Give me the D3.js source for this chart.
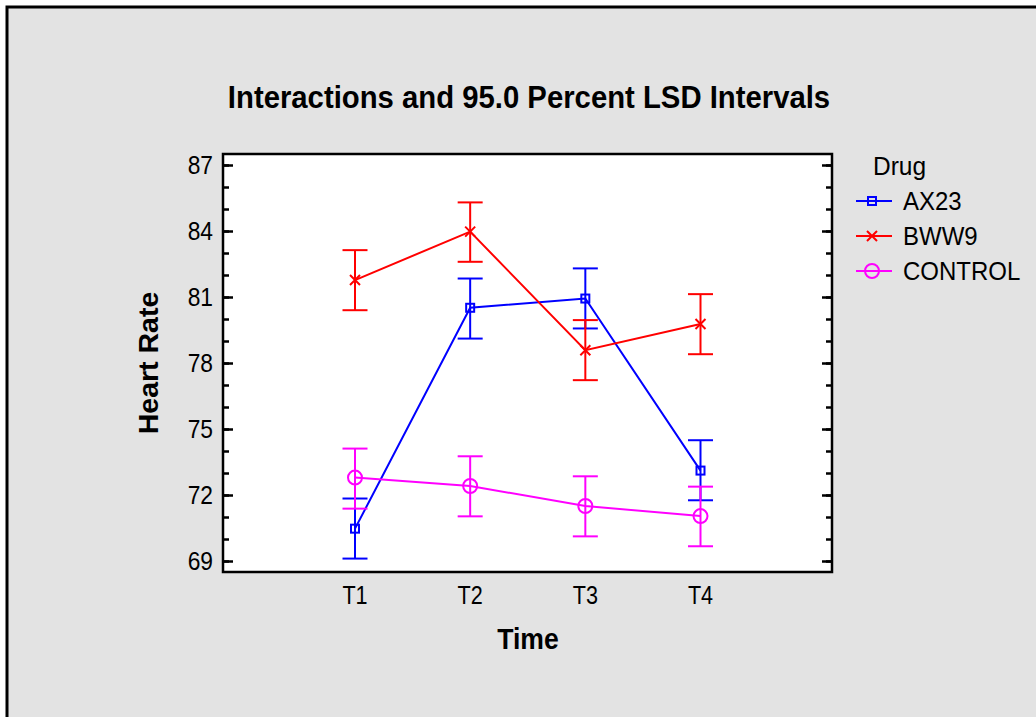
<!DOCTYPE html>
<html>
<head>
<meta charset="utf-8">
<script src="https://cdn.jsdelivr.net/npm/d3@7"></script>
<style>
  html, body { margin: 0; padding: 0; background: #ffffff; }
  svg { display: block; }
  text { font-family: "Liberation Sans", Arial, sans-serif; fill: #000; }
</style>
</head>
<body>
<svg id="chart" width="1036" height="717"></svg>
<script>
// ---- data ----
const categories = ["T1", "T2", "T3", "T4"];
const seriesNames = ["AX23", "BWW9", "CONTROL"];
const ax23Mean  = [70.47, 80.51, 80.93, 73.11];
const ax23Low   = [69.11, 79.11, 79.57, 71.76];
const ax23High  = [71.84, 81.84, 82.30, 74.49];
const bww9Mean  = [81.77, 83.97, 78.58, 79.77];
const bww9Low   = [80.40, 82.60, 77.22, 78.40];
const bww9High  = [83.13, 85.30, 79.95, 81.13];
const ctrlMean  = [72.79, 72.41, 71.50, 71.04];
const ctrlLow   = [71.38, 71.03, 70.12, 69.67];
const ctrlHigh  = [74.11, 73.76, 72.85, 72.38];
const yTicks = [69, 72, 75, 78, 81, 84, 87];
const yMinorTicks = d3.range(69, 88, 1);
const titleText = "Interactions and 95.0 Percent LSD Intervals";
const xTitle = "Time";
const yTitle = "Heart Rate";
const legendTitle = "Drug";

const series = [
  { name: seriesNames[0], mean: ax23Mean, low: ax23Low, high: ax23High, color: "#0000ff", marker: "square" },
  { name: seriesNames[1], mean: bww9Mean, low: bww9Low, high: bww9High, color: "#ff0000", marker: "cross" },
  { name: seriesNames[2], mean: ctrlMean, low: ctrlLow, high: ctrlHigh, color: "#ff00ff", marker: "circle" }
];

// ---- layout ----
const svg = d3.select("#chart");
const plot = { left: 223, right: 832, top: 154, bottom: 572 };

// outer background frame
svg.append("rect")
  .attr("x", 7).attr("y", 7)
  .attr("width", 1040).attr("height", 720)
  .attr("fill", "#e3e3e3")
  .attr("stroke", "#000").attr("stroke-width", 3);

const x = d3.scalePoint().domain(categories)
  .range([355, 700.5]);
const y = d3.scaleLinear().domain([68.5, 87.5]).range([plot.bottom, plot.top]);

// plot background
svg.append("rect")
  .attr("x", plot.left).attr("y", plot.top)
  .attr("width", plot.right - plot.left).attr("height", plot.bottom - plot.top)
  .attr("fill", "#ffffff");

// axes with inward ticks on both sides
const yAxisLeftMinor = d3.axisRight(y).tickValues(yMinorTicks).tickSize(6).tickFormat("");
const yAxisLeftMajor = d3.axisRight(y).tickValues(yTicks).tickSize(10).tickFormat("");
const yAxisRightMinor = d3.axisLeft(y).tickValues(yMinorTicks).tickSize(6).tickFormat("");
const yAxisRightMajor = d3.axisLeft(y).tickValues(yTicks).tickSize(10).tickFormat("");

[[yAxisLeftMinor, plot.left], [yAxisLeftMajor, plot.left], [yAxisRightMinor, plot.right], [yAxisRightMajor, plot.right]]
  .forEach(([ax, px]) => {
    const g = svg.append("g").attr("transform", `translate(${px},0)`).call(ax);
    g.select(".domain").remove();
    g.selectAll(".tick line").attr("stroke", "#000").attr("stroke-width", 2.5);
  });

// y tick labels (slightly tall, narrow glyphs as in the reference)
svg.append("g").selectAll("text").data(yTicks).join("text")
  .attr("transform", d => `translate(213,${y(d)}) scale(0.95,1.05)`)
  .attr("dy", "0.36em")
  .attr("text-anchor", "end")
  .style("font-size", "24px")
  .text(d => d);

// x tick labels
svg.append("g").selectAll("text").data(categories).join("text")
  .attr("transform", d => `translate(${x(d)},604) scale(0.92,1.08)`)
  .attr("text-anchor", "middle")
  .style("font-size", "23.5px")
  .text(d => d);

// series
const capHalf = 12.5;
function drawMarker(g, type, cx, cy, color) {
  if (type === "square") {
    g.append("rect").attr("x", cx - 4).attr("y", cy - 4).attr("width", 8).attr("height", 8)
      .attr("fill", "none").attr("stroke", color).attr("stroke-width", 2);
  } else if (type === "cross") {
    g.append("path").attr("d", `M${cx-5},${cy-5}L${cx+5},${cy+5}M${cx-5},${cy+5}L${cx+5},${cy-5}`)
      .attr("fill", "none").attr("stroke", color).attr("stroke-width", 2);
  } else {
    g.append("circle").attr("cx", cx).attr("cy", cy).attr("r", 7)
      .attr("fill", "none").attr("stroke", color).attr("stroke-width", 2);
  }
}

series.forEach(s => {
  const g = svg.append("g");
  categories.forEach((c, i) => {
    const cx = x(c);
    g.append("line").attr("x1", cx).attr("x2", cx).attr("y1", y(s.low[i])).attr("y2", y(s.high[i]))
      .attr("stroke", s.color).attr("stroke-width", 2);
    [s.low[i], s.high[i]].forEach(v => {
      g.append("line").attr("x1", cx - capHalf).attr("x2", cx + capHalf).attr("y1", y(v)).attr("y2", y(v))
        .attr("stroke", s.color).attr("stroke-width", 2);
    });
  });
  const line = d3.line().x((d, i) => x(categories[i])).y(d => y(d));
  g.append("path").datum(s.mean).attr("d", line)
    .attr("fill", "none").attr("stroke", s.color).attr("stroke-width", 2);
  s.mean.forEach((v, i) => drawMarker(g, s.marker, x(categories[i]), y(v), s.color));
});

// plot border
svg.append("rect")
  .attr("x", plot.left).attr("y", plot.top)
  .attr("width", plot.right - plot.left).attr("height", plot.bottom - plot.top)
  .attr("fill", "none").attr("stroke", "#000").attr("stroke-width", 2.5);

// titles
svg.append("text").attr("transform", "translate(529,108) scale(1,1.08)").attr("text-anchor", "middle")
  .style("font-size", "29.3px").style("font-weight", "bold").text(titleText);
svg.append("text").attr("transform", "translate(528,649) scale(0.95,1.08)").attr("text-anchor", "middle")
  .style("font-size", "28px").style("font-weight", "bold").text(xTitle);
svg.append("text").attr("transform", `translate(158,${(plot.top + plot.bottom) / 2}) rotate(-90)`)
  .attr("text-anchor", "middle")
  .style("font-size", "28.5px").style("font-weight", "bold").text(yTitle);

// legend
const leg = svg.append("g");
leg.append("text").attr("transform", "translate(873,175) scale(1,1.06)").style("font-size", "24.5px").text(legendTitle);
series.forEach((s, i) => {
  const ly = 201 + i * 35;
  leg.append("line").attr("x1", 856).attr("x2", 892).attr("y1", ly).attr("y2", ly)
    .attr("stroke", s.color).attr("stroke-width", 2);
  drawMarker(leg, s.marker, 872, ly, s.color);
  leg.append("text").attr("transform", `translate(903,${ly}) scale(1,1.08)`).attr("dy", "0.36em")
    .style("font-size", "24px").text(s.name);
});
</script>
</body>
</html>
